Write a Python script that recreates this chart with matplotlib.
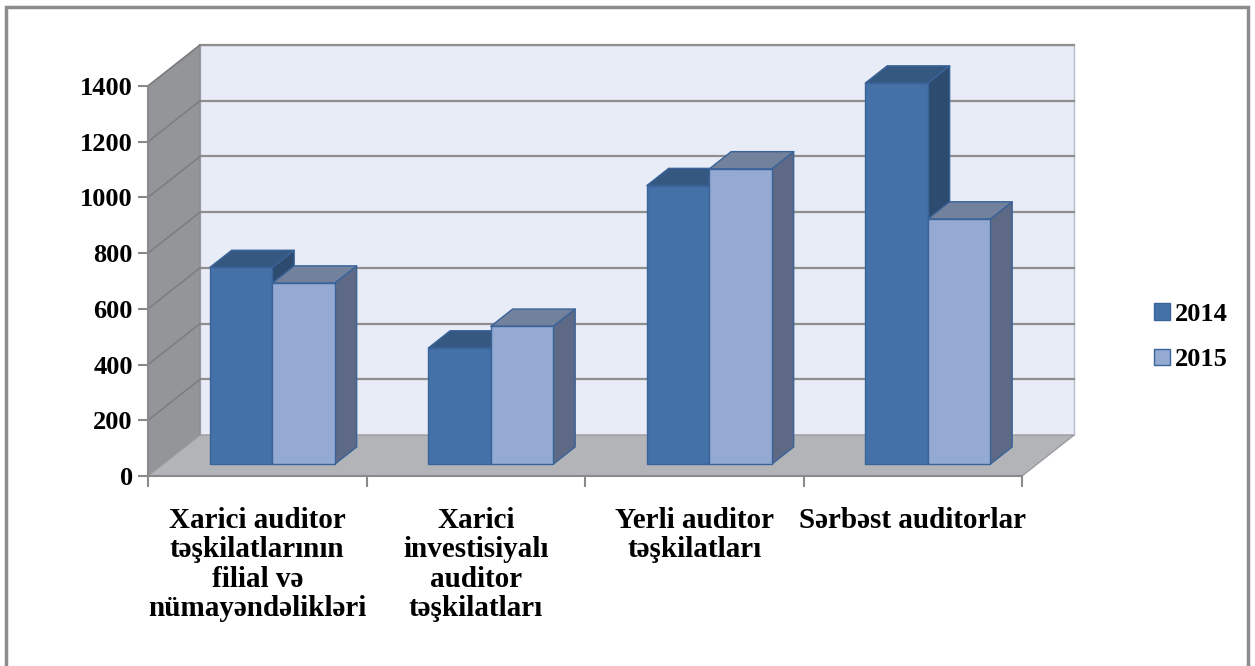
import matplotlib
matplotlib.use("Agg")
import matplotlib.pyplot as plt
from matplotlib.patches import Polygon, Rectangle, Patch
import numpy as np

# data
categories = [
    "Xarici auditor\ntəşkilatlarının\nfilial və\nnümayəndəlikləri",
    "Xarici\ninvestisiyalı\nauditor\ntəşkilatları",
    "Yerli auditor\ntəşkilatları",
    "Sərbəst auditorlar",
]
years = ["2014", "2015"]
vals_2014 = [706, 417, 1000, 1368]
vals_2015 = [650, 495, 1060, 880]
yticks = [0, 200, 400, 600, 800, 1000, 1200, 1400]

# faux-3D styling (Excel look)
FRONT = ["#4471a8", "#95aad2"]
TOP = ["#34587f", "#72819c"]
SIDE = ["#2d4a6f", "#5e6a85"]
EDGE = "#3a6399"
DX, DY = 0.238, 147.0      # full depth offset in data units
D0, D1 = 0.29, 0.71        # bar depth range (fraction)
BW = 0.286                 # bar width per series
FONT = "Liberation Serif"

fig = plt.figure(figsize=(12.55, 6.66), dpi=100)
fig.patch.set_facecolor("white")
ax = fig.add_axes([148 / 1255, 190 / 666, 874 / 1255, 390 / 666])
ax.set_xlim(0, 4)
ax.set_ylim(0, 1400)
ax.patch.set_visible(False)

n = len(categories)
ymax = yticks[-1]

# back wall, side wall, floor
ax.add_patch(Polygon([(DX, DY), (n + DX, DY), (n + DX, ymax + DY), (DX, ymax + DY)],
                     closed=True, fc="#e8ecf6", ec="#b8bcc4", lw=1, zorder=0, clip_on=False))
ax.add_patch(Polygon([(0, 0), (DX, DY), (DX, ymax + DY), (0, ymax)],
                     closed=True, fc="#939598", ec="#8a8c90", lw=1, zorder=0, clip_on=False))
ax.add_patch(Polygon([(0, 0), (n, 0), (n + DX, DY), (DX, DY)],
                     closed=True, fc="#b2b4b7", ec="#9a9ca0", lw=1, zorder=0.5, clip_on=False))

# gridlines on back wall and side wall
for v in yticks[1:]:
    ax.plot([DX, n + DX], [v + DY, v + DY], color="#8e8e8e", lw=1.6, zorder=0.8, clip_on=False)
    ax.plot([0, DX], [v, v + DY], color="#7c7e82", lw=1.2, zorder=0.8, clip_on=False)


def draw_bar(x0, v, k):
    xf = x0 + D0 * DX
    yf = D0 * DY
    ddx = (D1 - D0) * DX
    ddy = (D1 - D0) * DY
    side = [(xf + BW, yf), (xf + BW + ddx, yf + ddy), (xf + BW + ddx, yf + v + ddy), (xf + BW, yf + v)]
    top = [(xf, yf + v), (xf + BW, yf + v), (xf + BW + ddx, yf + v + ddy), (xf + ddx, yf + v + ddy)]
    front = [(xf, yf), (xf + BW, yf), (xf + BW, yf + v), (xf, yf + v)]
    for pts, c in [(side, SIDE[k]), (top, TOP[k]), (front, FRONT[k])]:
        ax.add_patch(Polygon(pts, closed=True, fc=c, ec=EDGE, lw=1.0,
                             joinstyle="round", zorder=3, clip_on=False))


for i in range(n):
    center = i + 0.5
    draw_bar(center - BW, vals_2014[i], 0)
    draw_bar(center, vals_2015[i], 1)

# axes lines and ticks
for s in ["top", "right"]:
    ax.spines[s].set_visible(False)
for s in ["left", "bottom"]:
    ax.spines[s].set_color("#8a8a8a")
    ax.spines[s].set_linewidth(1.5)
    ax.spines[s].set_zorder(4)

ax.set_yticks(yticks)
ax.set_yticklabels([str(t) for t in yticks], fontname=FONT, fontweight="bold", fontsize=19)
ax.tick_params(axis="y", length=7, width=1.5, color="#8a8a8a", pad=4)

ax.set_xticks(np.arange(n + 1))
ax.set_xticklabels([])
ax.tick_params(axis="x", which="major", length=8, width=1.5, color="#8a8a8a")
ax.set_xticks(np.arange(n) + 0.5, minor=True)
ax.set_xticklabels(categories, minor=True, fontname=FONT, fontweight="bold",
                   fontsize=21, linespacing=1.12, va="top", ha="center")
ax.tick_params(axis="x", which="minor", length=0, pad=22)

# legend
handles = [Patch(fc=FRONT[k], ec=EDGE, lw=1.0) for k in range(2)]
fig.legend(handles, years, loc="center left", bbox_to_anchor=(1130 / 1255, 1 - 337 / 666),
           frameon=False, handlelength=0.6, handleheight=0.6, handletextpad=0.2,
           labelspacing=0.85, prop={"family": FONT, "weight": "bold", "size": 19})

# outer chart border
fig.add_artist(Rectangle((6 / 1255, -0.05), 1242 / 1255, 1.05 - 7 / 666,
                         transform=fig.transFigure, fill=False, ec="#8c8c8c", lw=2.5))

fig.savefig("out.png", dpi=100)
